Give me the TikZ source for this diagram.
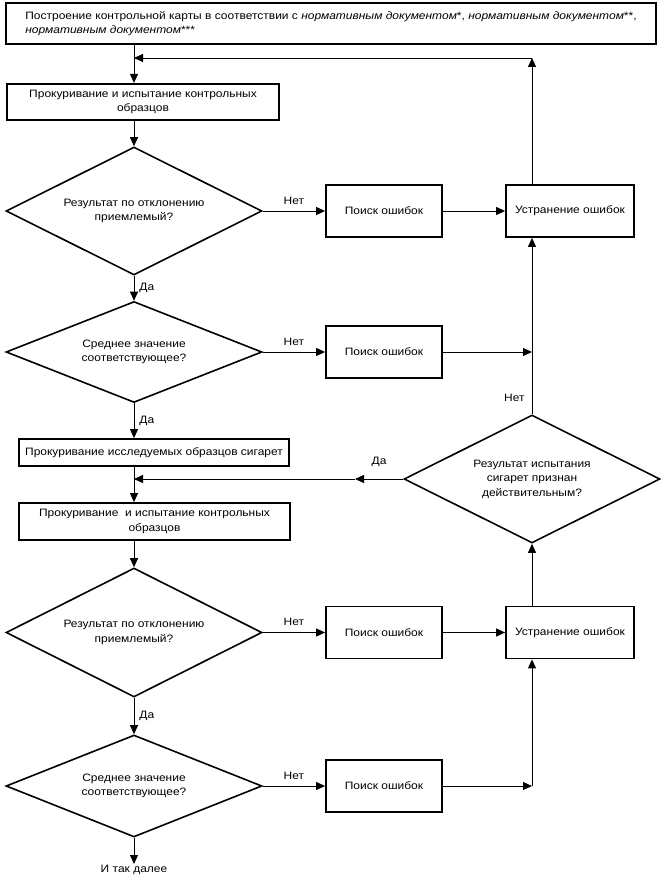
\documentclass[tikz,border=0pt]{standalone}
\usepackage{fontspec}
\setmainfont{Liberation Sans}[FakeStretch=1.12]
\usetikzlibrary{arrows.meta,shapes.geometric}

\begin{document}
\begin{tikzpicture}[x=1pt,y=-1pt,
 font=\fontsize{10.7}{14.5}\selectfont,
 box/.style={draw,line width=1.8pt,align=center,inner sep=2pt,minimum width=116pt,minimum height=52pt},
 heavy/.style={box,line width=2.2pt},
 check/.style={draw,diamond,line width=1.6pt,aspect=2.5,inner sep=0pt,minimum width=256pt,align=center},
 flow/.style={line width=0.9pt,-{Triangle[length=9pt,width=8pt]}},
 lbl/.style={inner sep=1pt}]
 \useasboundingbox (0,0) rectangle (663,882);
 \coordinate (mainx) at (134,0);
 \coordinate (rightx) at (532,0);
 \node[heavy,align=left,minimum width=650pt,minimum height=41pt] (plan) at (331,23.5)
  {Построение контрольной карты в соответствии с \textit{нормативным документом}*, \textit{нормативным документом}**,\\
   \textit{нормативным документом}***};
 \node[heavy,minimum width=272pt,minimum height=36pt] (smoke1) at (143,102) {Прокуривание и испытание контрольных\\образцов};
 \node[check,minimum height=128pt] (dev1) at (134,211) {Результат по отклонению\\приемлемый?};
 \node[box] (find1) at (384,211) {Поиск ошибок};
 \node[box,minimum width=128pt] (fix1) at (570,211) {Устранение ошибок};
 \node[check,minimum height=101pt] (mean1) at (134,352) {Среднее значение\\соответствующее?};
 \node[box] (find2) at (384,352) {Поиск ошибок};
 \node[box,minimum width=270pt,minimum height=27pt] (smoke2) at (154,452.5) {Прокуривание исследуемых образцов сигарет};
 \node[check,minimum height=128pt] (valid) at (532,479) {Результат испытания\\сигарет признан\\действительным?};
 \node[box,minimum width=271pt,minimum height=37pt] (smoke3) at (154.5,521.5) {Прокуривание\ \ и испытание контрольных\\образцов};
 \node[check,minimum height=129pt] (dev2) at (134,632.5) {Результат по отклонению\\приемлемый?};
 \node[box] (find3) at (384,632.5) {Поиск ошибок};
 \node[box,minimum width=128pt] (fix2) at (570,632.5) {Устранение ошибок};
 \node[check,minimum height=102pt] (mean2) at (134,786) {Среднее значение\\соответствующее?};
 \node[box] (find4) at (384,786) {Поиск ошибок};
 \node[lbl,anchor=north] (more) at (134,864) {И так далее};
 \coordinate (back) at (532,58);
 \coordinate (yes) at (355,479);
 % main line
 \draw[flow] (plan.south -| mainx) -- (smoke1.north -| mainx);
 \draw[flow] (smoke1.south -| mainx) -- (dev1.north);
 \draw[flow] (dev1.south) -- (mean1.north) node[lbl,right=4pt,midway] {Да};
 \draw[flow] (mean1.south) -- (smoke2.north -| mainx) node[lbl,right=4pt,midway] {Да};
 \draw[flow] (smoke2.south -| mainx) -- (smoke3.north -| mainx);
 \draw[flow] (smoke3.south -| mainx) -- (dev2.north);
 \draw[flow] (dev2.south) -- (mean2.north) node[lbl,right=4pt,midway] {Да};
 \draw[flow] (mean2.south) -- (more.north);
 % branches
 \draw[flow] (dev1.east) -- (find1.west) node[lbl,above=5pt,midway] {Нет};
 \draw[flow] (find1.east) -- (fix1.west);
 \draw[flow] (mean1.east) -- (find2.west) node[lbl,above=5pt,midway] {Нет};
 \draw[flow] (find2.east) -- (find2.east -| rightx);
 \draw[flow] (dev2.east) -- (find3.west) node[lbl,above=5pt,midway] {Нет};
 \draw[flow] (find3.east) -- (fix2.west);
 \draw[flow] (mean2.east) -- (find4.west) node[lbl,above=5pt,midway] {Нет};
 \draw[flow] (find4.east) -- (find4.east -| rightx);
 % back
 \draw[flow] (find4.east -| rightx) -- (fix2.south -| rightx);
 \draw[flow] (fix2.north -| rightx) -- (valid.south);
 \draw[flow] (valid.north) -- (fix1.south -| rightx) node[lbl,left=6pt,pos=0.09] {Нет};
 \draw[flow] (fix1.north -| rightx) -- (back);
 \draw[flow] (back) -- (back -| mainx);
 \draw[flow] (valid.west) -- (yes) node[lbl,above=11pt,midway] {Да};
 \draw[flow] (yes) -- (yes -| mainx);
\end{tikzpicture}
\end{document}
